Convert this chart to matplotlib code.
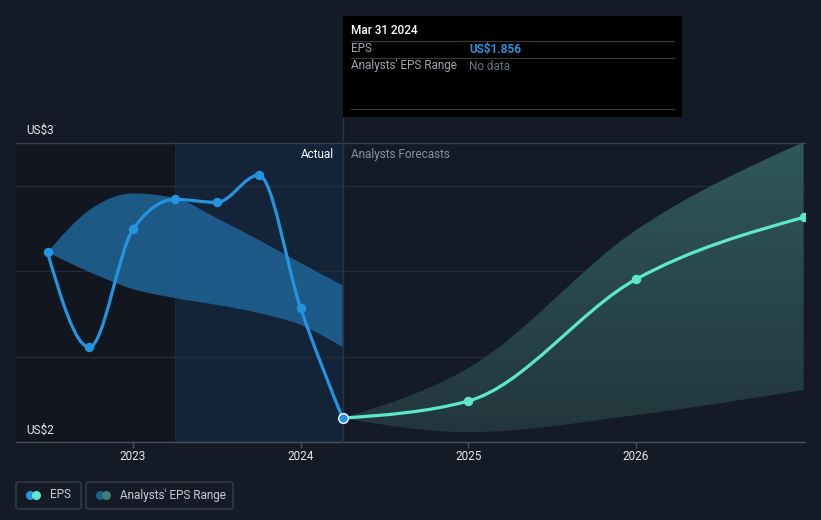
import numpy as np
import matplotlib
matplotlib.use("Agg")
import matplotlib.pyplot as plt
from matplotlib.path import Path
from matplotlib.patches import PathPatch, Rectangle, FancyBboxPatch
from matplotlib.lines import Line2D

plt.rcParams["font.family"] = ["Roboto", "DejaVu Sans"]

# EPS history (decimal year) and the analysts' range around it
actual_dates = [2022.49, 2022.74, 2023.0, 2023.25, 2023.5, 2023.75, 2024.0, 2024.25]
actual_eps = [2.244, 2.022, 2.298, 2.368, 2.361, 2.425, 2.113, 1.856]
past_high = [2.244, 2.343, 2.382, 2.371, 2.324, 2.273, 2.219, 2.167]
past_low = [2.244, 2.198, 2.158, 2.137, 2.121, 2.102, 2.074, 2.022]

# forecasts
forecast_dates = [2024.25, 2025.0, 2026.0, 2027.0]
forecast_eps = [1.856, 1.896, 2.181, 2.326]
forecast_high = [1.856, 1.973, 2.296, 2.502]
forecast_low = [1.856, 1.823, 1.863, 1.922]

year_ticks = [2023, 2024, 2025, 2026]
grid_values = [2.0, 2.2, 2.4]

BG = "#151b26"
BLUE = "#2394df"
MINT = "#5ee8c9"
W, H = 821, 520


def monotone_segments(xs, ys):
    # cubic bezier segments with monotone-x tangents
    xs = np.asarray(xs, float)
    ys = np.asarray(ys, float)
    n = len(xs)
    h = np.diff(xs)
    s = np.diff(ys) / h
    t = np.zeros(n)
    for i in range(1, n - 1):
        p = (s[i - 1] * h[i] + s[i] * h[i - 1]) / (h[i - 1] + h[i])
        t[i] = (np.sign(s[i - 1]) + np.sign(s[i])) * min(abs(s[i - 1]), abs(s[i]), 0.5 * abs(p))
    t[0] = (3 * s[0] - t[1]) / 2
    t[-1] = (3 * s[-1] - t[-2]) / 2
    segs = []
    for i in range(n - 1):
        dx = h[i] / 3
        segs.append(((xs[i], ys[i]),
                     (xs[i] + dx, ys[i] + dx * t[i]),
                     (xs[i + 1] - dx, ys[i + 1] - dx * t[i + 1]),
                     (xs[i + 1], ys[i + 1])))
    return segs


def curve_path(xs, ys):
    segs = monotone_segments(xs, ys)
    verts = [segs[0][0]]
    codes = [Path.MOVETO]
    for p0, c1, c2, p1 in segs:
        verts += [c1, c2, p1]
        codes += [Path.CURVE4] * 3
    return Path(verts, codes)


def band_path(xs, lo, hi):
    up = monotone_segments(xs, hi)
    dn = monotone_segments(xs, lo)
    verts = [up[0][0]]
    codes = [Path.MOVETO]
    for p0, c1, c2, p1 in up:
        verts += [c1, c2, p1]
        codes += [Path.CURVE4] * 3
    verts.append(dn[-1][3])
    codes.append(Path.LINETO)
    for p0, c1, c2, p1 in reversed(dn):
        verts += [c2, c1, p0]
        codes += [Path.CURVE4] * 3
    verts.append(up[0][0])
    codes.append(Path.CLOSEPOLY)
    return Path(verts, codes)


fig = plt.figure(figsize=(W / 100, H / 100), dpi=100, facecolor=BG)
ax = fig.add_axes([16 / W, (H - 442) / H, (805 - 16) / W, (442 - 143) / H])
ax.set_facecolor(BG)
ax.set_xlim(2022.302, 2027.008)
ax.set_ylim(1.8, 2.5)

# shaded past regions
ax.axvspan(2022.302, 2023.25, color="#11161f", zorder=0, lw=0)
ax.axvspan(2023.25, 2024.25, color="#132338", zorder=0, lw=0)

for g in grid_values:
    ax.axhline(g, color="#262d39", lw=0.9, zorder=1)
ax.axhline(2.5, color="#3a414c", lw=1.0, zorder=1, clip_on=False)
ax.axvline(2023.25, color="#1a2a3d", lw=0.8, zorder=1)

# analysts' range, past
past_band = PathPatch(band_path(actual_dates, past_low, past_high),
                      facecolor="#1e5f8f", edgecolor="none", alpha=0.92, zorder=2)
ax.add_patch(past_band)

# analysts' range, forecast (vertical gradient)
fc_band = PathPatch(band_path(forecast_dates, forecast_low, forecast_high),
                    facecolor="none", edgecolor="none", zorder=2)
ax.add_patch(fc_band)
grad = np.linspace(0, 1, 256).reshape(-1, 1)
cmap = matplotlib.colors.LinearSegmentedColormap.from_list("fc", ["#22363c", "#2f5859"])
img = ax.imshow(grad, cmap=cmap, origin="lower", aspect="auto",
                extent=(2024.25, 2027.008, 1.8, 2.5), zorder=2)
img.set_clip_path(fc_band)

# hover line
ax.axvline(2024.25, ymin=0, ymax=(442 - 118) / (442 - 143), color="#243548",
           lw=1.0, zorder=3, clip_on=False)

# EPS lines
ax.add_patch(PathPatch(curve_path(forecast_dates, forecast_eps), facecolor="none",
                       edgecolor=MINT, lw=2.3, zorder=4, capstyle="round"))
ax.plot(forecast_dates[1:], forecast_eps[1:], "o", color=MINT, ms=5.8, zorder=5)
ax.add_patch(PathPatch(curve_path(actual_dates, actual_eps), facecolor="none",
                       edgecolor=BLUE, lw=2.3, zorder=4, capstyle="round"))
ax.plot(actual_dates[:-1], actual_eps[:-1], "o", color=BLUE, ms=5.8, zorder=5)
ax.plot(actual_dates[-1], actual_eps[-1], "o", color=BLUE, ms=7, mec="white",
        mew=1.0, zorder=6)

for side in ["top", "right", "left"]:
    ax.spines[side].set_visible(False)
ax.spines["bottom"].set_color("#4a505b")
ax.spines["bottom"].set_linewidth(1.0)
ax.set_yticks([])
ax.set_xticks(year_ticks)
ax.set_xticklabels([str(y) for y in year_ticks])
ax.tick_params(axis="x", colors="#4a505b", labelcolor="#e6e8ea", length=4,
               width=1, pad=2, labelsize=8.5)

ax.text(2024.2, 2.473, "Actual", color="white", fontsize=8.5, ha="right", va="center")
ax.text(2024.3, 2.473, "Analysts Forecasts", color="#8a9099", fontsize=8.5,
        ha="left", va="center")


def fx(px):
    return px / W


def fy(py):
    return 1 - py / H


fig.text(fx(26), fy(130), "US$3", color="#e6e8ea", fontsize=8.5, va="center")
fig.text(fx(26), fy(430), "US$2", color="#e6e8ea", fontsize=8.5, va="center")

# tooltip
fig.add_artist(Rectangle((fx(343), fy(117)), (682 - 343) / W, (117 - 16) / H,
                         transform=fig.transFigure, facecolor="black",
                         edgecolor="none", zorder=10))
for ly in [41, 58, 109]:
    fig.add_artist(Line2D([fx(351), fx(674)], [fy(ly), fy(ly)], color="#3a3a3a",
                          lw=0.8, transform=fig.transFigure, zorder=11))
fig.text(fx(351), fy(31), "Mar 31 2024", color="white", fontsize=8.5, va="center",
         fontweight="medium", zorder=12)
fig.text(fx(351), fy(49), "EPS", color="#a0a5ac", fontsize=8.5, va="center", zorder=12)
fig.text(fx(469), fy(49), "US$1.856", color=BLUE, fontsize=8.5, va="center",
         fontweight="bold", zorder=12)
fig.text(fx(351), fy(66), "Analysts' EPS Range", color="#a0a5ac", fontsize=8.5,
         va="center", zorder=12)
fig.text(fx(469), fy(66), "No data", color="#6c717a", fontsize=8.5, va="center", zorder=12)

# legend
legend_items = [("EPS", BLUE, MINT, 16, 81), ("Analysts' EPS Range", "#1e5f8f", "#3a7f7a", 86, 233)]
for label, c1, c2, x0, x1 in legend_items:
    fig.add_artist(FancyBboxPatch((fx(x0), fy(509)), (x1 - x0) / W, 27 / H,
                                  boxstyle="round,pad=0,rounding_size=0.004",
                                  transform=fig.transFigure, facecolor="none",
                                  edgecolor="#3a404b", lw=1.0))
    fig.add_artist(Line2D([fx(x0 + 14)], [fy(495)], marker="o", ms=6.5, color=c1,
                          mec="none", transform=fig.transFigure))
    fig.add_artist(Line2D([fx(x0 + 20)], [fy(495)], marker="o", ms=6.5, color=c2,
                          mec="none", transform=fig.transFigure))
    fig.text(fx(x0 + 34), fy(495), label, color="#c8ccd2", fontsize=8.5, va="center")

fig.savefig("out.png", dpi=100, facecolor=BG)
